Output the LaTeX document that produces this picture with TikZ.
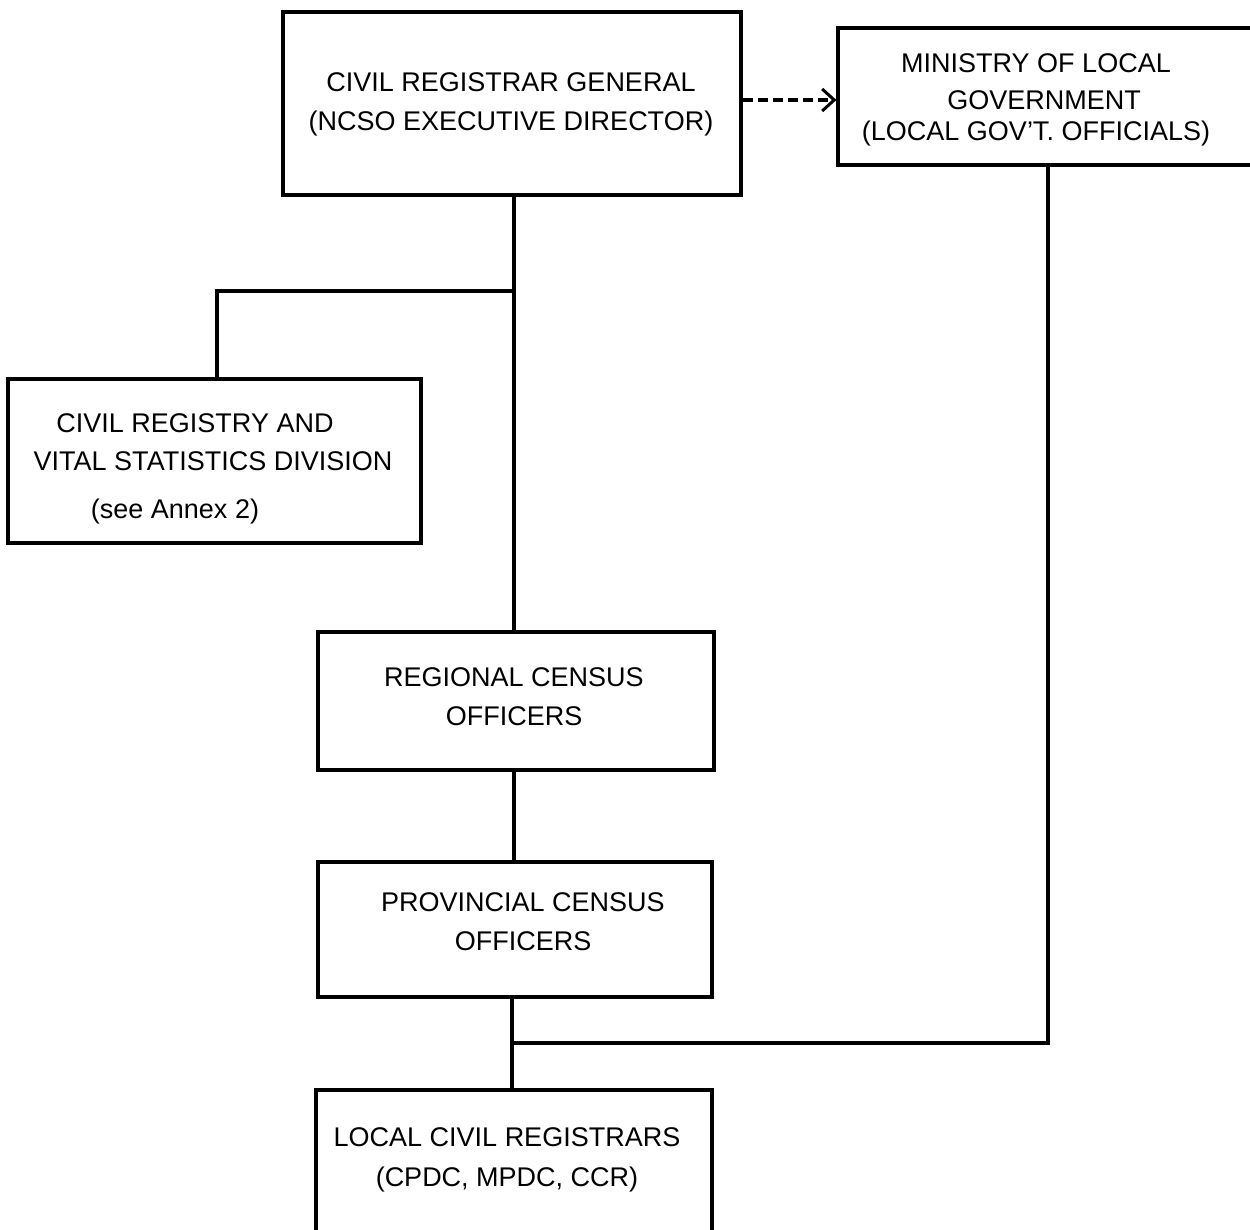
\documentclass[tikz,border=0pt]{standalone}
\usepackage{fontspec}
\setmainfont{Liberation Sans}
\usetikzlibrary{arrows.meta}
\begin{document}
\begin{tikzpicture}[x=1pt,y=-1pt,
  orgbox/.style={draw,line width=3.2pt,rectangle,inner sep=0pt},
  boxtext/.style={font=\fontsize{27}{39}\selectfont,align=center,inner sep=0pt},
  link/.style={line width=3.8pt},
  advice/.style={line width=3.2pt,dash pattern=on 10pt off 5pt,-{Straight Barb[length=12pt,width=22pt,line width=3pt]}}]
\clip (0,0) rectangle (1250,1230);
\useasboundingbox (0,0) rectangle (1250,1230);

% boxes
\node[orgbox,minimum width=458pt,minimum height=183pt] (crg) at (512,103.5) {};
\node[orgbox,minimum width=424pt,minimum height=137pt] (min) at (1050,96.5) {};
\node[orgbox,minimum width=413pt,minimum height=164pt] (crvs) at (214.5,461) {};
\node[orgbox,minimum width=396pt,minimum height=138pt] (reg) at (516,701) {};
\node[orgbox,minimum width=394pt,minimum height=135pt] (prov) at (515,929.5) {};
\node[orgbox,minimum width=396pt,minimum height=170pt] (loc) at (514,1175) {};

% labels
\node[boxtext] (crgtext) at (511,104) {CIVIL REGISTRAR GENERAL\\(NCSO EXECUTIVE DIRECTOR)};
\node[boxtext] (mintext1) at (1036,63) {MINISTRY OF LOCAL};
\node[boxtext] (mintext2) at (1044,100) {GOVERNMENT};
\node[boxtext] (mintext3) at (1036,134) {(LOCAL GOV'T. OFFICIALS)};
\node[boxtext] (crvstext1) at (195,423) {CIVIL REGISTRY AND};
\node[boxtext] (crvstext2) at (213,461) {VITAL STATISTICS DIVISION};
\node[boxtext] (crvstext3) at (175,512) {(see Annex 2)};
\node[boxtext] (regtext) at (514,697) {REGIONAL CENSUS\\OFFICERS};
\node[boxtext] (provtext) at (523,922) {PROVINCIAL CENSUS\\OFFICERS};
\node[boxtext] (loctext1) at (507,1137) {LOCAL CIVIL REGISTRARS};
\node[boxtext] (loctext2) at (507,1180) {(CPDC, MPDC, CCR)};

% junction points
\coordinate (j1) at (514,291);
\coordinate (j2) at (512,1043);

% connectors
\draw[link] (crg.south -| j1) -- (reg.north -| j1);
\draw[link] (j1) -| (crvs.north -| 217,0);
\draw[link] (reg.south -| j1) -- (prov.north -| j1);
\draw[link] (prov.south -| j2) -- (loc.north -| j2);
\draw[link] (j2) -| (min.south -| 1048,0);
\draw[advice] (crg.east |- 0,100) -- (min.west |- 0,100);
\end{tikzpicture}
\end{document}
